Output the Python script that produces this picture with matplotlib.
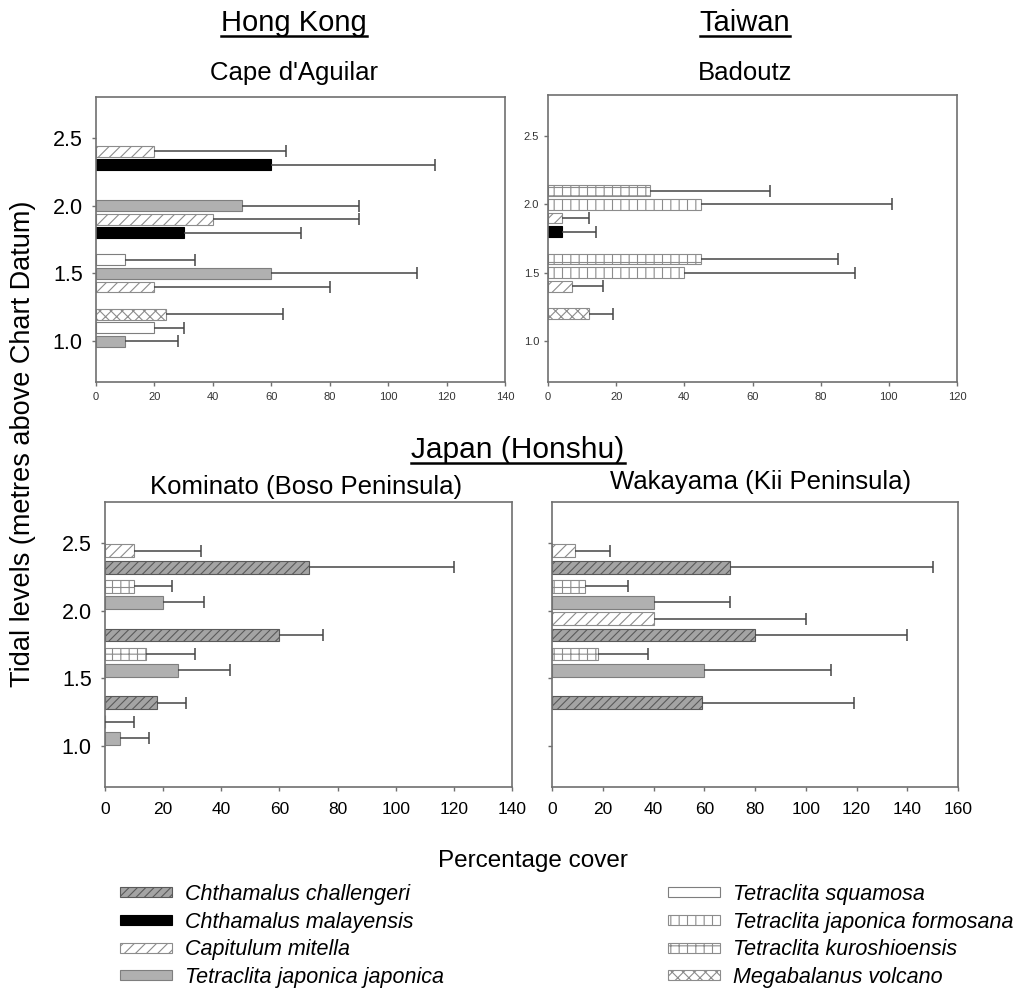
import numpy as np
import matplotlib
matplotlib.use("Agg")
import matplotlib.pyplot as plt
from matplotlib.patches import Patch
from matplotlib.lines import Line2D

plt.rcParams['font.family'] = ['Liberation Sans', 'DejaVu Sans']
plt.rcParams['hatch.linewidth'] = 0.8

# ---------------- data ----------------
# species codes
species_codes = ['CC', 'CMa', 'CM', 'TJJ', 'TS', 'TJF', 'TK', 'MV']
species_names = ['Chthamalus challengeri', 'Chthamalus malayensis', 'Capitulum mitella',
                 'Tetraclita japonica japonica', 'Tetraclita squamosa',
                 'Tetraclita japonica formosana', 'Tetraclita kuroshioensis',
                 'Megabalanus volcano']

# Cape d'Aguilar (Hong Kong)
cape_levels = [2.4, 2.3, 2.0, 1.9, 1.8, 1.6, 1.5, 1.4, 1.2, 1.1, 1.0]
cape_species = ['CM', 'CMa', 'TJJ', 'CM', 'CMa', 'TS', 'TJJ', 'CM', 'MV', 'TS', 'TJJ']
cape_mean = [20, 60, 50, 40, 30, 10, 60, 20, 24, 20, 10]
cape_err = [45, 56, 40, 50, 40, 24, 50, 60, 40, 10, 18]

# Badoutz (Taiwan)
bad_levels = [2.1, 2.0, 1.9, 1.8, 1.6, 1.5, 1.4, 1.2]
bad_species = ['TK', 'TJF', 'CM', 'CMa', 'TK', 'TJF', 'CM', 'MV']
bad_mean = [30, 45, 4, 4, 45, 40, 7, 12]
bad_err = [35, 56, 8, 10, 40, 50, 9, 7]

# Kominato (Boso Peninsula, Japan)
kom_levels = [2.44, 2.32, 2.18, 2.06, 1.82, 1.68, 1.56, 1.32, 1.18, 1.06]
kom_species = ['CM', 'CC', 'TK', 'TJJ', 'CC', 'TK', 'TJJ', 'CC', 'TK', 'TJJ']
kom_mean = [10, 70, 10, 20, 60, 14, 25, 18, 0, 5]
kom_err = [23, 50, 13, 14, 15, 17, 18, 10, 10, 10]

# Wakayama (Kii Peninsula, Japan)
wak_levels = [2.44, 2.32, 2.18, 2.06, 1.94, 1.82, 1.68, 1.56, 1.32]
wak_species = ['CM', 'CC', 'TK', 'TJJ', 'CM', 'CC', 'TK', 'TJJ', 'CC']
wak_mean = [9, 70, 13, 40, 40, 80, 18, 60, 59]
wak_err = [14, 80, 17, 30, 60, 60, 20, 50, 60]

ytick_vals = [1.0, 1.5, 2.0, 2.5]

# ---------------- styles ----------------
STYLE = {
    'CC': dict(facecolor='#a4a4a4', edgecolor='#5a5a5a', hatch='////'),
    'CMa': dict(facecolor='#000000', edgecolor='#000000'),
    'CM': dict(facecolor='white', edgecolor='#8c8c8c', hatch='///'),
    'TJJ': dict(facecolor='#b0b0b0', edgecolor='#7e7e7e'),
    'TS': dict(facecolor='white', edgecolor='#7e7e7e'),
    'TJF': dict(facecolor='white', edgecolor='#8c8c8c', hatch='||'),
    'TK': dict(facecolor='white', edgecolor='#8c8c8c', hatch='++'),
    'MV': dict(facecolor='white', edgecolor='#8c8c8c', hatch='xxx'),
}
SPINE = '#707070'
ERRC = '#454545'

W, H = 1018, 990
fig = plt.figure(figsize=(W / 100, H / 100), dpi=100)


def rect(x0, y0, x1, y1):
    return [x0 / W, 1 - y1 / H, (x1 - x0) / W, (y1 - y0) / H]


def panel(r, levels, species, mean, err, height, xmax,
          ysize, xsize, ypad, xpad, ylabels=True):
    ax = fig.add_axes(r)
    levels = np.asarray(levels, float)
    mean = np.asarray(mean, float)
    err = np.asarray(err, float)
    species = np.asarray(species)
    for code in species_codes:
        m = species == code
        if m.any():
            ax.barh(levels[m], mean[m], height=height, linewidth=0.8,
                    zorder=2, **STYLE[code])
    ax.errorbar(mean, levels, xerr=[np.zeros_like(err), err], fmt='none',
                ecolor=ERRC, elinewidth=1.1, capsize=0, zorder=3)
    ax.plot(mean + err, levels, linestyle='none', marker='|', ms=8.5,
            mew=1.1, color=ERRC, zorder=3)
    ax.set_xlim(0, xmax)
    ax.set_ylim(0.7, 2.8)
    ax.set_xticks(np.arange(0, xmax + 1, 20))
    ax.set_yticks(ytick_vals)
    if ylabels:
        ax.set_yticklabels([f'{v:.1f}' for v in ytick_vals])
    else:
        ax.set_yticklabels([])
    for s in ax.spines.values():
        s.set_color(SPINE)
        s.set_linewidth(1.2)
    ax.tick_params(axis='both', direction='out', length=3, width=1,
                   color=SPINE)
    ax.tick_params(axis='y', labelsize=ysize, pad=ypad)
    ax.tick_params(axis='x', labelsize=xsize, pad=xpad)
    return ax


ax1 = panel(rect(96, 97, 505, 382), cape_levels, cape_species, cape_mean,
            cape_err, 0.08, 140, 15.5, 8, 6.5, 4.5)
ax1.tick_params(axis='x', labelcolor='#333333')
ax2 = panel(rect(548, 95, 957, 382), bad_levels, bad_species, bad_mean,
            bad_err, 0.08, 120, 8, 8, 3.5, 4.5)
ax2.tick_params(labelcolor='#333333')
ax3 = panel(rect(105, 502, 512, 787), kom_levels, kom_species, kom_mean,
            kom_err, 0.095, 140, 15.5, 12.5, 6.5, 8)
ax4 = panel(rect(552, 502, 958, 787), wak_levels, wak_species, wak_mean,
            wak_err, 0.095, 160, 15.5, 12.5, 7, 8, ylabels=False)


def ftext(x, y, s, **kw):
    return fig.text(x / W, 1 - y / H, s, **kw)


renderer = fig.canvas.get_renderer()


def underlined(x, y, s, size):
    t = ftext(x, y, s, ha='center', va='baseline', fontsize=size)
    bb = t.get_window_extent(renderer=renderer)
    yline = (H - y - 4.5) / H
    fig.add_artist(Line2D([bb.x0 / W, bb.x1 / W], [yline, yline],
                          transform=fig.transFigure, color='black', lw=1.8))
    return t


underlined(294, 31, 'Hong Kong', 21)
underlined(745, 31, 'Taiwan', 21)
underlined(518, 458, 'Japan (Honshu)', 21.5)

ftext(294, 80, "Cape d'Aguilar", ha='center', va='baseline', fontsize=18.5)
ftext(745, 80, 'Badoutz', ha='center', va='baseline', fontsize=18.5)
ftext(306, 494, 'Kominato (Boso Peninsula)', ha='center', va='baseline', fontsize=18.5)
ftext(761, 489, 'Wakayama (Kii Peninsula)', ha='center', va='baseline', fontsize=18.5)

ftext(23, 444, 'Tidal levels (metres above Chart Datum)', rotation=90,
      ha='center', va='center', fontsize=19.5)
ftext(438, 867, 'Percentage cover', ha='left', va='baseline', fontsize=17.5)

# legend
def handles_for(codes):
    return [Patch(linewidth=0.8, **STYLE[c]) for c in codes]

left_codes = species_codes[:4]
right_codes = species_codes[4:]
common = dict(loc='upper left', frameon=False, bbox_transform=fig.transFigure,
              prop={'style': 'italic', 'size': 15.5}, handlelength=2.4,
              handleheight=0.33, handletextpad=0.6, labelspacing=0.31,
              borderpad=0, borderaxespad=0)
fig.legend(handles_for(left_codes), species_names[:4],
           bbox_to_anchor=(120 / W, 1 - 884 / H), **common)
fig.legend(handles_for(right_codes), species_names[4:],
           bbox_to_anchor=(668 / W, 1 - 884 / H), **common)

fig.savefig('out.png', dpi=100)
